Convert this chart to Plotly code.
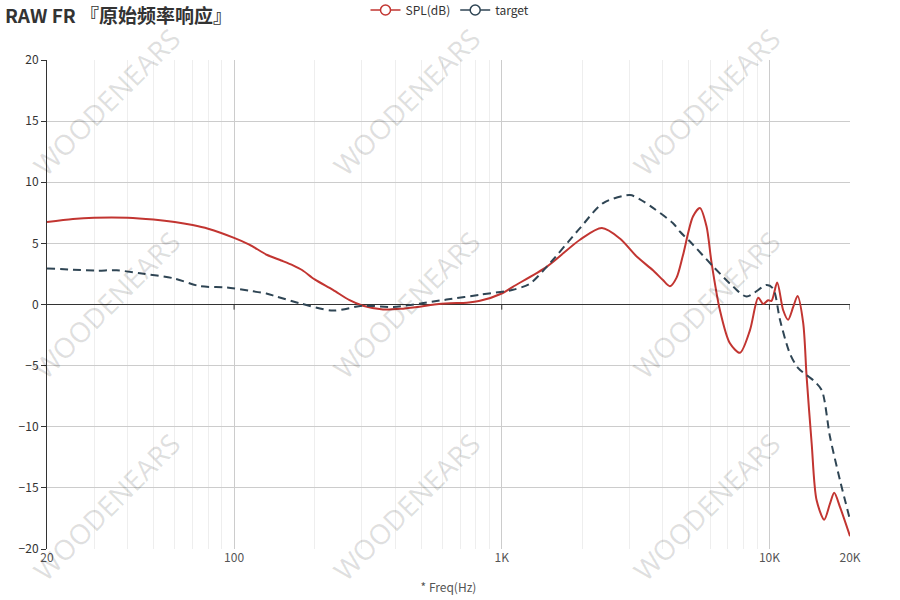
import plotly.graph_objects as go

# ---------------- data ----------------
spl_freq = [20, 25, 30, 40, 50, 60, 70, 80, 100, 114, 133, 150, 166, 180, 200, 234, 270, 303,
            360, 420, 482, 560, 640, 740, 829, 1000, 1100, 1475, 1960, 2366, 2762, 3200, 3673,
            4000, 4250, 4500, 4750, 5180, 5500, 5820, 6080, 6530, 7110, 7760, 8460, 9080, 9480,
            9890, 10180, 10690, 11250, 11740, 12270, 12740, 13370, 13770, 14380, 15000, 16020,
            16830, 17460, 18340, 20000]
spl_db = [6.75, 7.0, 7.1, 7.1, 6.95, 6.75, 6.5, 6.2, 5.45, 4.9, 4.05, 3.6, 3.2, 2.8, 2.05, 1.2,
          0.35, -0.1, -0.4, -0.35, -0.2, 0.0, 0.1, 0.15, 0.3, 0.9, 1.45, 3.1, 5.3, 6.25, 5.4,
          3.9, 2.8, 2.0, 1.5, 2.2, 4.0, 7.2, 7.9, 6.4, 3.4, -0.45, -3.15, -3.95, -2.1, 0.55,
          0.05, 0.35, 0.3, 1.8, -0.45, -1.25, -0.2, 0.7, -1.5, -5.9, -11.35, -16.0, -17.6,
          -16.3, -15.4, -16.55, -18.95]

target_freq = [20, 25, 30.7, 36.4, 44.5, 59.3, 74.6, 93.8, 114, 132, 144, 176, 234, 303, 393,
               555, 622, 829, 1100, 1273, 1475, 1960, 2393, 3013, 3283, 3673, 4365, 4636, 5050,
               6170, 7330, 8220, 9780, 10330, 10950, 11920, 12810, 14580, 15680, 16830, 18340,
               20000]
target_db = [2.95, 2.85, 2.77, 2.8, 2.55, 2.15, 1.5, 1.4, 1.13, 0.9, 0.65, 0.1, -0.5, -0.1, -0.2,
             0.25, 0.4, 0.8, 1.2, 1.7, 3.1, 6.25, 8.3, 8.95, 8.6, 7.9, 6.65, 5.95, 5.15, 3.1,
             1.45, 0.65, 1.6, 1.3, -1.25, -4.0, -5.2, -6.2, -7.0, -10.8, -14.35, -17.6]

x_tickvals = [20, 100, 1000, 10000, 20000]
x_ticktext = ["20", "100", "1K", "10K", "20K"]
x_minorvals = [30, 40, 50, 60, 70, 80, 90, 200, 300, 400, 500, 600, 700, 800, 900,
               2000, 3000, 4000, 5000, 6000, 7000, 8000, 9000]
y_tickvals = [-20, -15, -10, -5, 0, 5, 10, 15, 20]

title_text = "RAW FR 『原始频率响应』"
watermark = "WOODENEARS"

RED = "#c23531"
DARK = "#2f4554"
FONT = "Noto Sans CJK SC"

fig = go.Figure()
fig.add_trace(go.Scatter(x=spl_freq, y=spl_db, mode="lines", name="SPL(dB)",
                         line=dict(color=RED, width=2, shape="spline", smoothing=0.8),
                         showlegend=False, legendgroup="spl"))
fig.add_trace(go.Scatter(x=target_freq, y=target_db, mode="lines", name="target",
                         line=dict(color=DARK, width=2, dash="8px,5px", shape="spline", smoothing=0.8),
                         showlegend=False, legendgroup="target"))
# legend entries (line + hollow circle)
fig.add_trace(go.Scatter(x=[None], y=[None], mode="lines+markers", name="SPL(dB)",
                         line=dict(color=RED, width=1.5),
                         marker=dict(symbol="circle", size=10, color="white",
                                     line=dict(color=RED, width=1.5)),
                         legendgroup="spl"))
fig.add_trace(go.Scatter(x=[None], y=[None], mode="lines+markers", name="target",
                         line=dict(color=DARK, width=1.5),
                         marker=dict(symbol="circle", size=10, color="white",
                                     line=dict(color=DARK, width=1.5)),
                         legendgroup="target"))

# tick marks on the zero line
shapes = []
for v in x_tickvals[1:]:
    shapes.append(dict(type="line", xref="x", yref="y", x0=v, x1=v, y0=0, y1=-0.42,
                       line=dict(color="#333", width=1), layer="above"))

# watermark grid
L, R, T, B = 47, 850, 60, 549
W, H = R - L, B - T
annotations = []
for py in [102, 305, 507]:
    for px in [106, 406, 706]:
        annotations.append(dict(text=watermark, xref="paper", yref="paper",
                                x=(px - L) / W, y=(B - py) / H,
                                xanchor="center", yanchor="middle", showarrow=False,
                                textangle=-45,
                                font=dict(family="Noto Sans", size=28, color="rgba(0,0,0,0.12)")))
# title as annotation (pixel placed)
annotations.append(dict(text="<b>" + title_text + "</b>", xref="paper", yref="paper",
                        x=(3 - L) / W, y=(B - 14) / H, xanchor="left", yanchor="middle",
                        showarrow=False,
                        font=dict(family=FONT, size=19, color="#333")))

fig.update_layout(
    width=900, height=600,
    margin=dict(l=L, r=900 - R, t=T, b=600 - B, autoexpand=False),
    paper_bgcolor="white", plot_bgcolor="white",
    font=dict(family=FONT, size=12, color="#333"),
    legend=dict(orientation="h", x=0.5, xanchor="center", xref="container",
                y=1 - 10 / 600, yanchor="middle", yref="container",
                font=dict(family=FONT, size=12, color="#333"),
                itemwidth=30, bgcolor="rgba(0,0,0,0)"),
    xaxis=dict(type="log", range=[1.30103, 4.30103], automargin=False,
               tickvals=x_tickvals, ticktext=x_ticktext,
               showgrid=True, gridcolor="#cccccc", gridwidth=1,
               minor=dict(tickvals=x_minorvals, showgrid=True, gridcolor="#eeeeee", gridwidth=1),
               showline=False, zeroline=False, ticks="",
               tickfont=dict(family=FONT, size=12, color="#555"),
               title=dict(text="* Freq(Hz)", font=dict(family=FONT, size=12, color="#555"),
                          standoff=19)),
    yaxis=dict(range=[-20, 20], tickvals=y_tickvals, automargin=False,
               showgrid=True, gridcolor="#cccccc", gridwidth=1,
               zeroline=True, zerolinecolor="#333", zerolinewidth=1,
               showline=True, linecolor="#333", linewidth=1,
               ticks="outside", ticklen=5, tickcolor="#333",
               tickfont=dict(family=FONT, size=12, color="#333")),
    shapes=shapes,
    annotations=annotations,
)

fig.write_html("out.html", config={"displayModeBar": False},
               post_script="document.body.style.margin='0';")
